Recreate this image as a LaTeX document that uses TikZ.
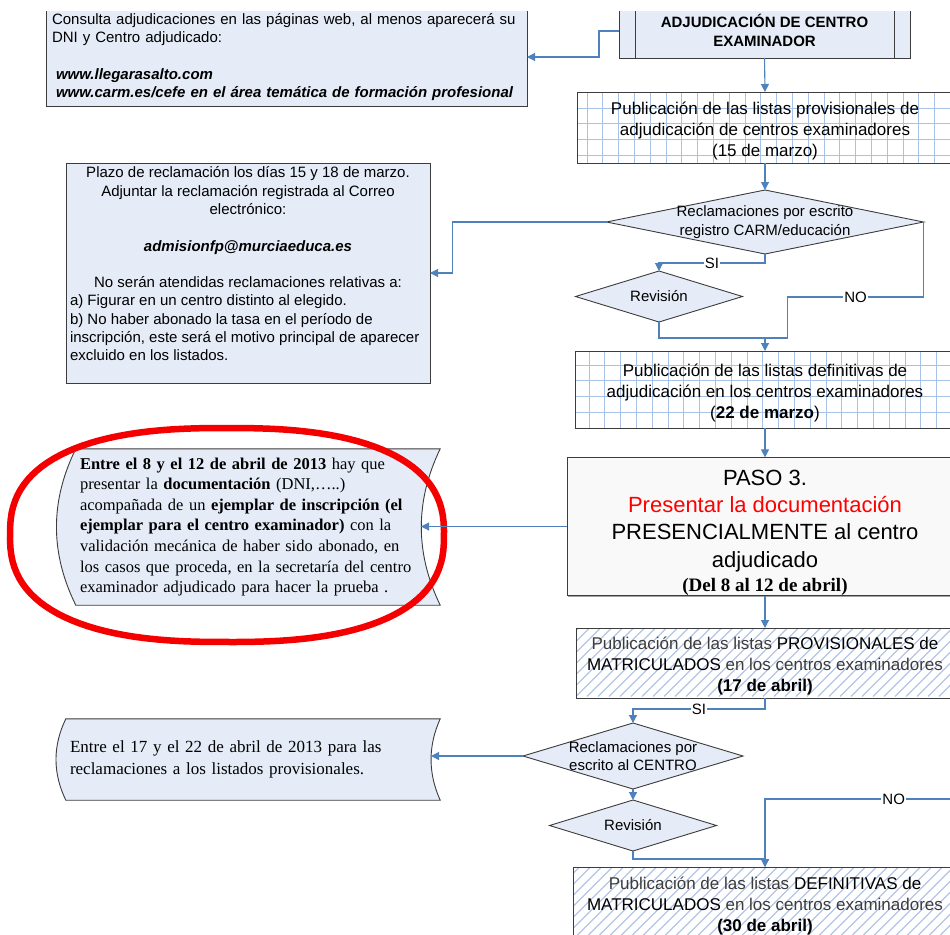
\documentclass[tikz,border=0pt]{standalone}
\usepackage{fontspec}
\setmainfont{Liberation Sans}
\newfontfamily\tnr{Liberation Serif}
\usetikzlibrary{arrows.meta,shapes.geometric,shadows,calc}
\pgfdeclarelayer{background}
\pgfsetlayers{background,main}
\definecolor{pbox}{RGB}{229,236,247}
\definecolor{connblue}{RGB}{79,129,189}
\definecolor{gridc}{RGB}{168,194,230}
\definecolor{hatchc}{RGB}{178,198,230}
\definecolor{bord}{RGB}{60,60,60}
\definecolor{txtg}{RGB}{60,60,60}
\definecolor{pasofill}{RGB}{249,249,249}
\definecolor{redell}{RGB}{245,0,0}
\newcommand\topstr[1]{\rule{0pt}{#1}}
% grid background for a named box: #1 node name, #2 x offset of first vertical line, #3 y offset of first horizontal line
\newcommand\gridbg[3]{%
  \begin{pgfonlayer}{background}
    \fill[black!60, opacity=0.6] ([shift={(1.2,-1.2)}]#1.south west) rectangle ([shift={(1.2,-1.2)}]#1.north east);
    \fill[white] (#1.south west) rectangle (#1.north east);
    \begin{scope}
      \clip (#1.south west) rectangle (#1.north east);
      \foreach \i in {0,...,25}{\draw[gridc, line width=0.8pt] ([xshift=#2+\i*15.8]#1.north west) -- ([xshift=#2+\i*15.8]#1.south west);}
      \foreach \j in {0,...,5}{\draw[gridc, line width=0.8pt] ([yshift=-#3-\j*15.8]#1.north west) -- ([yshift=-#3-\j*15.8]#1.north east);}
    \end{scope}
  \end{pgfonlayer}}
\begin{document}
\begin{tikzpicture}[x=1pt,y=1pt,
  box/.style={rectangle, draw=bord, line width=0.9pt, fill=pbox, inner sep=0pt, outer sep=0pt,
    drop shadow={shadow xshift=1.2pt, shadow yshift=-1.2pt, fill=black!60, opacity=0.6}},
  gbox/.style={rectangle, draw=bord, line width=0.9pt, inner sep=0pt, outer sep=0pt},
  dia/.style={diamond, draw=bord, line width=0.9pt, fill=pbox, inner sep=0pt, outer sep=0pt},
  conn/.style={draw=connblue, line width=1.1pt, -{Triangle[length=8pt,width=8pt]}},
  cline/.style={draw=connblue, line width=1.1pt},
  lbl/.style={fill=white, inner sep=1pt, font=\fontsize{15}{18}\selectfont, text=black},
  f15/.style={font=\fontsize{15}{18.3}\selectfont},
  f17/.style={font=\fontsize{17}{21}\selectfont},
  hatchfill/.style={path picture={\begin{scope}[shift={(path picture bounding box.south west)}]\foreach \i in {-10,...,40}{\draw[hatchc, line width=1.2pt] (\i*11,-5) -- ++(90,90);}\end{scope}}},
  tape/.style={draw=bord, line width=0.9pt, fill=pbox}
]
\useasboundingbox (0,0) rectangle (950,-934);
\clip (0,-12) rectangle (950,-934);

% ---------- right column ----------
\node[box, minimum width=291, minimum height=55, align=center,
      font=\fontsize{15}{19}\selectfont\bfseries] (adj) at (764.5,-30.5)
  {ADJUDICACIÓN DE CENTRO\\EXAMINADOR};
\draw[bord, line width=0.9pt] ([xshift=16pt]adj.north west) -- ([xshift=16pt]adj.south west)
  ([xshift=-16pt]adj.north east) -- ([xshift=-16pt]adj.south east);

\node[gbox, minimum width=376, minimum height=71, align=center, f17] (g1) at (765,-127.5)
  {\topstr{19pt}Publicación de las listas provisionales de\\adjudicación de centros examinadores\\(15 de marzo)};
\gridbg{g1}{10}{16}

\node[dia, minimum width=317, minimum height=64,
      label={[f15, align=center]center:Reclamaciones por escrito\\registro CARM/educación}] (d1) at (765,-222) {};

\node[dia, minimum width=167, minimum height=51, label={[f15]center:Revisión}] (r1) at (659,-296.5) {};

\node[gbox, minimum width=380, minimum height=77, align=center, f17] (g2) at (765,-389.5)
  {\topstr{19pt}Publicación de las listas definitivas de\\adjudicación en los centros examinadores\\(\textbf{22 de marzo})};
\gridbg{g2}{14}{14}

\node[box, fill=pasofill, minimum width=396, minimum height=135, align=center,
      font=\fontsize{22}{27.3}\selectfont] (paso) at (765,-526.5)
  {\topstr{28pt}PASO 3.\\\textcolor{red}{Presentar la documentación}\\PRESENCIALMENTE al centro\\adjudicado\\[-3pt]{\tnr\bfseries\fontsize{19}{22}\selectfont (Del 8 al 12 de abril)}};

\node[box, fill=white, hatchfill, minimum width=378, minimum height=70, align=center, f17] (h1) at (765,-663)
  {\topstr{18.5pt}{\color{txtg}Publicación de las listas} PROVISIONALES de\\MATRICULADOS {\color{txtg}en los centros examinadores}\\\textbf{(17 de abril)}};

\node[dia, minimum width=220, minimum height=66,
      label={[f15, align=center]center:Reclamaciones por\\escrito al CENTRO}] (d2) at (633,-756) {};

\node[dia, minimum width=167, minimum height=51, label={[f15]center:Revisión}] (r2) at (633,-825.5) {};

\node[box, fill=white, hatchfill, minimum width=384, minimum height=72, align=center, f17] (h2) at (765,-903)
  {\topstr{18.5pt}{\color{txtg}Publicación de las listas} DEFINITIVAS de\\MATRICULADOS {\color{txtg}en los centros examinadores}\\\textbf{(30 de abril)}};

% ---------- left column ----------
\node[box, minimum width=481, minimum height=98, text width=469, align=left, f15] (b1) at (286.5,-57)
  {Consulta adjudicaciones en las páginas web, al menos aparecerá su\\DNI y Centro adjudicado:\\[18.3pt]\hspace*{4pt}\textbf{\textit{www.llegarasalto.com}}\\\hspace*{4pt}\textbf{\textit{www.carm.es/cefe en el área temática de formación profesional}}};

\node[box, minimum width=364, minimum height=220, align=center, f15] (b2) at (248,-273)
  {Plazo de reclamación los días 15 y 18 de marzo.\\Adjuntar la reclamación registrada al Correo\\electrónico:\\[18.3pt]\textbf{\textit{admisionfp@murciaeduca.es}}\\[18.3pt]No serán atendidas reclamaciones relativas a:\\\parbox[t]{356pt}{\raggedright a) Figurar en un centro distinto al elegido.\\b) No haber abonado la tasa en el período de\\inscripción, este será el motivo principal de aparecer\\excluido en los listados.\\\mbox{}}};

\node[inner sep=0pt, minimum width=364, minimum height=156, text width=356, align=left,
      font=\tnr\fontsize{16.5}{20.6}\selectfont] (b3) at (258,-527)
  {\textbf{Entre el 8 y el 12 de abril de 2013} hay que\\presentar la \textbf{documentación} (DNI,…..)\\acompañada de un \textbf{ejemplar de inscripción (el}\\\textbf{ejemplar para el centro examinador)} con la\\validación mecánica de haber sido abonado, en\\los casos que proceda, en la secretaría del centro\\examinador adjudicado para hacer la prueba .};
\coordinate (b3c) at (421,-527);

\node[inner sep=0pt, minimum width=374, minimum height=81, text width=366, align=left,
      font=\tnr\fontsize{17}{21.5}\selectfont] (b4) at (253,-759.5)
  {Entre el 17 y el 22 de abril de 2013 para las\\reclamaciones a los listados provisionales.};
\coordinate (b4c) at (431,-759.5);

\begin{pgfonlayer}{background}
\draw[tape] (b3.north west) -- (b3.north east) .. controls (415,-501) and (415,-553) .. (b3.south east)
  -- (b3.south west) .. controls (50,-553) and (50,-501) .. (b3.north west) -- cycle;
\draw[tape] (b4.north west) -- (b4.north east) .. controls (428,-746) and (428,-773) .. (b4.south east)
  -- (b4.south west) .. controls (52.7,-773) and (52.7,-746) .. (b4.north west) -- cycle;
\end{pgfonlayer}

% ---------- red highlight ----------
\draw[redell, line width=6.5pt] plot[domain=1:361, samples=121, variable=\t]
  ({227+217*sign(cos(\t))*pow(abs(cos(\t)),0.8)}, {-535+107*sign(sin(\t))*pow(abs(sin(\t)),0.8)}) -- cycle;

% ---------- connectors ----------
\draw[conn] ([yshift=-0.5pt]adj.west) -- ++(-20,0) |- (b1.east);
\draw[conn] (adj.south) -- (g1.north);
\draw[conn] (g1.south) -- (d1.north);
\draw[conn] (d1.west) -- ++(-154,0) |- (b2.east);
\draw[conn] (d1.south) -- ++(0,-9) -| node[lbl, pos=0.25]{SI} (r1.north);
\draw[conn] (r1.south) -- ++(0,-16) -| (g2.north);
\draw[cline] (d1.east) |- node[lbl, pos=0.75]{NO} ++(-136,-75) -- ++(0,-41) -- ++(-22,0);
\draw[conn] (g2.south) -- (paso.north);
\draw[conn] (paso.west) -- (paso.west -| b3c);
\draw[conn] (paso.south) -- (h1.north);
\draw[conn] (h1.south) -- ++(0,-11) -| node[lbl, pos=0.25]{SI} (d2.north);
\draw[conn] (d2.west) -- (d2.west -| b4c);
\draw[conn] (d2.south) -- (r2.north);
\draw[conn] (r2.south) -- ++(0,-8) -| (h2.north);
\coordinate (noin) at (960,-799);
\draw[conn] (noin) -| node[lbl, pos=0.17]{NO} (h2.north);
\end{tikzpicture}
\end{document}
